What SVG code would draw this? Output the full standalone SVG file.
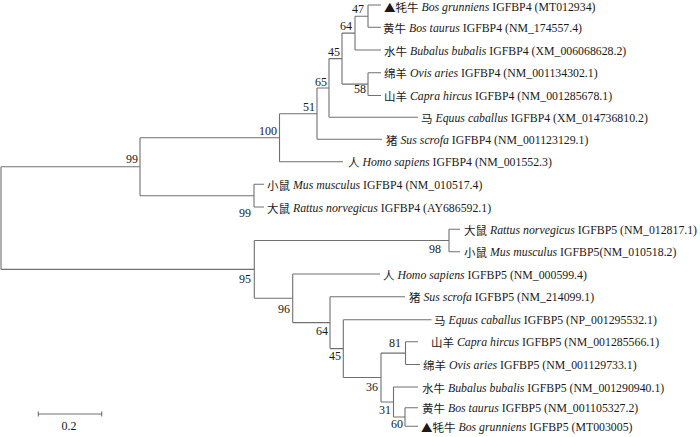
<svg xmlns="http://www.w3.org/2000/svg" width="700" height="437" viewBox="0 0 700 437">
<style>
.t{font-family:"Liberation Serif","Noto Sans CJK SC",serif;font-size:11.8px;fill:#1a1a1a;dominant-baseline:central}
.cn{font-family:"Noto Sans CJK SC","Liberation Serif",sans-serif;font-size:11.5px}
.i{font-style:italic}
.b{font-family:"Liberation Serif",serif;font-size:12px;fill:#1a1a1a}
.br{fill:none;stroke:#707070;stroke-width:1.1}
</style>
<rect width="700" height="437" fill="#fff"/>
<g id="connectors" class="br">
<path d="M1,166.7V269.4M1,166.7H140M1,269.4H254.3"/>
<path d="M140,137.7V195.7M140,137.7H279.5M140,195.7H254"/>
<path d="M279.5,113.7V161.7M279.5,113.7H317M279.5,161.7H343"/>
<path d="M317,88V139.3M317,88H329M317,139.3H382"/>
<path d="M329,58.6V117.3M329,58.6H342M329,117.3H418"/>
<path d="M342,33.1V84.1M342,33.1H355M342,84.1H368"/>
<path d="M355,16.2V50M355,16.2H368M355,50H381"/>
<path d="M368,5V27.3M368,5H381M368,27.3H381"/>
<path d="M368,72.7V95.5M368,72.7H381M368,95.5H381"/>
<path d="M254,184.3V207M254,184.3H264M254,207H264"/>
<path d="M254.3,240.5V298.3M254.3,240.5H449M254.3,298.3H292.7"/>
<path d="M449,229.3V251.7M449,229.3H460M449,251.7H460"/>
<path d="M292.7,274V322.6M292.7,274H380M292.7,322.6H330"/>
<path d="M330,296.7V348.6M330,296.7H405M330,348.6H343.3"/>
<path d="M343.3,319.7V377.5M343.3,319.7H431.5M343.3,377.5H381"/>
<path d="M381,353.1V402M381,353.1H405.5M381,402H393.5"/>
<path d="M405.5,341.7V364.5M405.5,341.7H418M405.5,364.5H420"/>
<path d="M393.5,387V417M393.5,387H418M393.5,417H405"/>
<path d="M405,407.7V426.3M405,407.7H418M405,426.3H418"/>
</g>
<g id="node-47"><text class="b" x="364" y="13" text-anchor="end">47</text></g>
<g id="node-64a"><text class="b" x="352" y="30" text-anchor="end">64</text></g>
<g id="node-45a"><text class="b" x="340" y="56" text-anchor="end">45</text></g>
<g id="node-58"><text class="b" x="366" y="93" text-anchor="end">58</text></g>
<g id="node-65"><text class="b" x="327" y="86" text-anchor="end">65</text></g>
<g id="node-51"><text class="b" x="315" y="111" text-anchor="end">51</text></g>
<g id="node-100"><text class="b" x="277" y="135" text-anchor="end">100</text></g>
<g id="node-99a"><text class="b" x="138" y="163" text-anchor="end">99</text></g>
<g id="node-99b"><text class="b" x="251" y="217" text-anchor="end">99</text></g>
<g id="node-95"><text class="b" x="251" y="283" text-anchor="end">95</text></g>
<g id="node-98"><text class="b" x="441" y="253" text-anchor="end">98</text></g>
<g id="node-96"><text class="b" x="290" y="313" text-anchor="end">96</text></g>
<g id="node-64b"><text class="b" x="328" y="335" text-anchor="end">64</text></g>
<g id="node-45b"><text class="b" x="341" y="360" text-anchor="end">45</text></g>
<g id="node-81"><text class="b" x="401" y="347" text-anchor="end">81</text></g>
<g id="node-36"><text class="b" x="378" y="391" text-anchor="end">36</text></g>
<g id="node-31"><text class="b" x="391" y="414" text-anchor="end">31</text></g>
<g id="node-60"><text class="b" x="403" y="428" text-anchor="end">60</text></g>
<g id="scale-bar"><path class="br" d="M38.3,414H101.7M38.3,411.5V416.5M101.7,411.5V416.5"/><text class="b" x="69" y="430" text-anchor="middle">0.2</text></g>
<g id="leaf-yak4"><text class="t" x="384" y="7"><tspan class="cn">▲牦牛</tspan>  <tspan class="i">Bos grunniens</tspan> IGFBP4 (MT012934)</text></g>
<g id="leaf-cattle4"><text class="t" x="383" y="27.8"><tspan class="cn">黄牛</tspan>  <tspan class="i">Bos taurus</tspan> IGFBP4 (NM_174557.4)</text></g>
<g id="leaf-buffalo4"><text class="t" x="384" y="50.5"><tspan class="cn">水牛</tspan> <tspan class="i">Bubalus bubalis</tspan> IGFBP4 (XM_006068628.2)</text></g>
<g id="leaf-sheep4"><text class="t" x="384" y="73.2"><tspan class="cn">绵羊</tspan> <tspan class="i">Ovis aries</tspan> IGFBP4 (NM_001134302.1)</text></g>
<g id="leaf-goat4"><text class="t" x="384" y="96"><tspan class="cn">山羊</tspan> <tspan class="i">Capra hircus</tspan> IGFBP4 (NM_001285678.1)</text></g>
<g id="leaf-horse4"><text class="t" x="421" y="117.8"><tspan class="cn">马</tspan> <tspan class="i">Equus caballus</tspan> IGFBP4 (XM_014736810.2)</text></g>
<g id="leaf-pig4"><text class="t" x="386" y="139.8"><tspan class="cn">猪</tspan> <tspan class="i">Sus scrofa</tspan> IGFBP4 (NM_001123129.1)</text></g>
<g id="leaf-human4"><text class="t" x="348" y="162.2"><tspan class="cn">人</tspan> <tspan class="i">Homo sapiens</tspan> IGFBP4 (NM_001552.3)</text></g>
<g id="leaf-mouse4"><text class="t" x="267" y="184.8"><tspan class="cn">小鼠</tspan>  <tspan class="i">Mus musculus</tspan> IGFBP4 (NM_010517.4)</text></g>
<g id="leaf-rat4"><text class="t" x="267" y="207.5"><tspan class="cn">大鼠</tspan> <tspan class="i">Rattus norvegicus</tspan> IGFBP4 (AY686592.1)</text></g>
<g id="leaf-rat5"><text class="t" x="464" y="229.8"><tspan class="cn">大鼠</tspan> <tspan class="i">Rattus norvegicus</tspan> IGFBP5 (NM_012817.1)</text></g>
<g id="leaf-mouse5"><text class="t" x="464" y="252.2"><tspan class="cn">小鼠</tspan>  <tspan class="i">Mus musculus</tspan> IGFBP5(NM_010518.2)</text></g>
<g id="leaf-human5"><text class="t" x="383" y="274.5"><tspan class="cn">人</tspan> <tspan class="i">Homo sapiens</tspan> IGFBP5 (NM_000599.4)</text></g>
<g id="leaf-pig5"><text class="t" x="409" y="297.2"><tspan class="cn">猪</tspan> <tspan class="i">Sus scrofa</tspan> IGFBP5 (NM_214099.1)</text></g>
<g id="leaf-horse5"><text class="t" x="434" y="320.2"><tspan class="cn">马</tspan> <tspan class="i">Equus caballus</tspan> IGFBP5 (NP_001295532.1)</text></g>
<g id="leaf-goat5"><text class="t" x="431" y="342.2"><tspan class="cn">山羊</tspan> <tspan class="i">Capra hircus</tspan> IGFBP5 (NM_001285566.1)</text></g>
<g id="leaf-sheep5"><text class="t" x="423" y="365"><tspan class="cn">绵羊</tspan> <tspan class="i">Ovis aries</tspan> IGFBP5 (NM_001129733.1)</text></g>
<g id="leaf-buffalo5"><text class="t" x="422" y="387.5"><tspan class="cn">水牛</tspan> <tspan class="i">Bubalus bubalis</tspan> IGFBP5 (NM_001290940.1)</text></g>
<g id="leaf-cattle5"><text class="t" x="422" y="408.2"><tspan class="cn">黄牛</tspan>  <tspan class="i">Bos taurus</tspan> IGFBP5 (NM_001105327.2)</text></g>
<g id="leaf-yak5"><text class="t" x="421" y="426.8"><tspan class="cn">▲牦牛</tspan>  <tspan class="i">Bos grunniens</tspan> IGFBP5 (MT003005)</text></g>
</svg>
